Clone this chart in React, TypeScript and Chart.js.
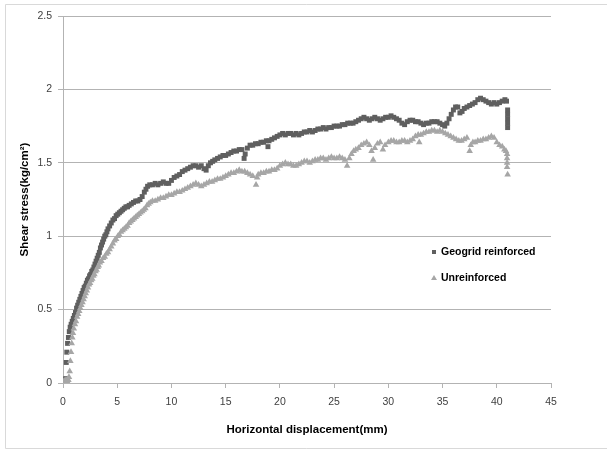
import React, { useEffect, useRef } from "react";
import { Chart, registerables } from "chart.js";

Chart.register(...registerables);

const xTicks = [0, 5, 10, 15, 20, 25, 30, 35, 40, 45];
const yTicks = [0, 0.5, 1, 1.5, 2, 2.5];
const yTickLabels = ["0", "0.5", "1", "1.5", "2", "2.5"];
const seriesNames = ["Geogrid reinforced", "Unreinforced"];

// Geogrid reinforced: [horizontal displacement (mm), shear stress (kg/cm2)]
const geogridPoints: number[][] = [
  [0, 0], [0.05, 0.01], [0.1, 0], [0.15, 0.02], [0.2, 0.01], [0.25, 0.03], [0.3, 0.14], [0.35, 0.21],
  [0.42, 0.27], [0.5, 0.31], [0.58, 0.35], [0.66, 0.38], [0.75, 0.4], [0.85, 0.42], [0.95, 0.44],
  [1.05, 0.46], [1.15, 0.48], [1.25, 0.51], [1.35, 0.53], [1.45, 0.55], [1.55, 0.57], [1.65, 0.59],
  [1.75, 0.61], [1.85, 0.63], [1.95, 0.65], [2.05, 0.66], [2.15, 0.68], [2.25, 0.7], [2.35, 0.71],
  [2.45, 0.73], [2.55, 0.74], [2.65, 0.76], [2.75, 0.77], [2.85, 0.79], [2.95, 0.81], [3.05, 0.83],
  [3.15, 0.85], [3.25, 0.87], [3.35, 0.89], [3.45, 0.92], [3.55, 0.94], [3.65, 0.96], [3.75, 0.98],
  [3.85, 1.0], [3.95, 1.01], [4.05, 1.03], [4.15, 1.05], [4.3, 1.07], [4.45, 1.09], [4.6, 1.11],
  [4.75, 1.12], [4.9, 1.14], [5.05, 1.15], [5.2, 1.16], [5.35, 1.17], [5.5, 1.18], [5.65, 1.19],
  [5.8, 1.2], [5.95, 1.2], [6.1, 1.21], [6.3, 1.22], [6.5, 1.23], [6.7, 1.24], [6.9, 1.24], [7.1, 1.25],
  [7.3, 1.27], [7.5, 1.3], [7.65, 1.32], [7.8, 1.34], [8.0, 1.35], [8.25, 1.35], [8.5, 1.36], [8.75, 1.35],
  [9.0, 1.36], [9.25, 1.37], [9.5, 1.36], [9.75, 1.36], [10.0, 1.38], [10.25, 1.4], [10.5, 1.41],
  [10.75, 1.42], [11.0, 1.44], [11.25, 1.45], [11.5, 1.46], [11.75, 1.47], [12.0, 1.48], [12.25, 1.48],
  [12.5, 1.47], [12.75, 1.48], [13.0, 1.46], [13.2, 1.45], [13.4, 1.48], [13.6, 1.5], [13.8, 1.51],
  [14.0, 1.52], [14.25, 1.53], [14.5, 1.54], [14.75, 1.55], [15.0, 1.55], [15.25, 1.56], [15.5, 1.57],
  [15.75, 1.58], [16.0, 1.58], [16.25, 1.59], [16.5, 1.59], [16.7, 1.53], [16.8, 1.56], [17.0, 1.6],
  [17.25, 1.62], [17.5, 1.62], [17.75, 1.63], [18.0, 1.63], [18.25, 1.64], [18.5, 1.64], [18.75, 1.65],
  [18.9, 1.61], [19.0, 1.65], [19.25, 1.66], [19.5, 1.67], [19.75, 1.68], [20.0, 1.69], [20.25, 1.7],
  [20.5, 1.69], [20.75, 1.7], [21.0, 1.7], [21.25, 1.69], [21.5, 1.7], [21.75, 1.69], [22.0, 1.7],
  [22.25, 1.71], [22.5, 1.71], [22.75, 1.72], [23.0, 1.71], [23.25, 1.72], [23.5, 1.73], [23.75, 1.73],
  [24.0, 1.74], [24.25, 1.73], [24.5, 1.74], [24.75, 1.74], [25.0, 1.75], [25.25, 1.75], [25.5, 1.75],
  [25.75, 1.76], [26.0, 1.76], [26.25, 1.77], [26.5, 1.77], [26.75, 1.77], [27.0, 1.78], [27.25, 1.79],
  [27.5, 1.8], [27.75, 1.81], [28.0, 1.8], [28.25, 1.79], [28.5, 1.8], [28.75, 1.81], [29.0, 1.8],
  [29.25, 1.79], [29.5, 1.8], [29.75, 1.81], [30.0, 1.81], [30.25, 1.82], [30.5, 1.81], [30.75, 1.8],
  [31.0, 1.79], [31.25, 1.77], [31.5, 1.76], [31.75, 1.78], [32.0, 1.79], [32.25, 1.79], [32.5, 1.78],
  [32.75, 1.78], [33.0, 1.77], [33.25, 1.76], [33.5, 1.77], [33.75, 1.77], [34.0, 1.78], [34.25, 1.78],
  [34.5, 1.78], [34.75, 1.77], [35.0, 1.76], [35.2, 1.75], [35.4, 1.77], [35.6, 1.8], [35.8, 1.83],
  [36.0, 1.86], [36.2, 1.88], [36.4, 1.88], [36.6, 1.84], [36.8, 1.85], [37.0, 1.87], [37.25, 1.88],
  [37.5, 1.89], [37.75, 1.9], [38.0, 1.91], [38.25, 1.93], [38.5, 1.94], [38.75, 1.93], [39.0, 1.92],
  [39.25, 1.91], [39.5, 1.9], [39.75, 1.91], [40.0, 1.9], [40.25, 1.91], [40.5, 1.92], [40.75, 1.93],
  [40.9, 1.92], [41.0, 1.86], [41.0, 1.83], [41.0, 1.8], [41.0, 1.77], [41.0, 1.74],
];

// Unreinforced: [horizontal displacement (mm), shear stress (kg/cm2)]
const unreinforcedPoints: number[][] = [
  [0, 0], [0.05, 0.01], [0.1, 0], [0.15, 0.01], [0.2, 0.02], [0.25, 0.01], [0.3, 0], [0.35, 0.02],
  [0.4, 0.01], [0.45, 0.02], [0.5, 0.02], [0.55, 0.04], [0.62, 0.08], [0.68, 0.15], [0.74, 0.21],
  [0.8, 0.27], [0.86, 0.31], [0.92, 0.34], [1.0, 0.37], [1.1, 0.4], [1.2, 0.42], [1.3, 0.45], [1.4, 0.47],
  [1.5, 0.49], [1.6, 0.51], [1.7, 0.53], [1.8, 0.55], [1.9, 0.57], [2.0, 0.59], [2.1, 0.61], [2.2, 0.63],
  [2.3, 0.65], [2.4, 0.67], [2.5, 0.68], [2.6, 0.7], [2.7, 0.71], [2.8, 0.73], [2.9, 0.74], [3.0, 0.76],
  [3.1, 0.77], [3.2, 0.79], [3.3, 0.8], [3.4, 0.82], [3.55, 0.83], [3.7, 0.85], [3.85, 0.86], [4.0, 0.88],
  [4.15, 0.89], [4.3, 0.91], [4.45, 0.93], [4.6, 0.95], [4.75, 0.97], [4.9, 0.98], [5.05, 1.0], [5.2, 1.01],
  [5.35, 1.03], [5.5, 1.04], [5.65, 1.05], [5.8, 1.06], [5.95, 1.07], [6.1, 1.09], [6.25, 1.1], [6.4, 1.11],
  [6.55, 1.12], [6.7, 1.13], [6.85, 1.14], [7.0, 1.15], [7.15, 1.16], [7.3, 1.17], [7.45, 1.18], [7.6, 1.19],
  [7.75, 1.21], [7.9, 1.22], [8.05, 1.23], [8.25, 1.24], [8.5, 1.24], [8.75, 1.25], [9.0, 1.26], [9.25, 1.26],
  [9.5, 1.27], [9.75, 1.28], [10.0, 1.28], [10.25, 1.29], [10.5, 1.3], [10.75, 1.3], [11.0, 1.31],
  [11.25, 1.32], [11.5, 1.33], [11.75, 1.34], [12.0, 1.35], [12.25, 1.36], [12.5, 1.35], [12.75, 1.34],
  [13.0, 1.35], [13.25, 1.36], [13.5, 1.37], [13.75, 1.37], [14.0, 1.38], [14.25, 1.39], [14.5, 1.39],
  [14.75, 1.4], [15.0, 1.41], [15.25, 1.42], [15.5, 1.43], [15.75, 1.43], [16.0, 1.44], [16.25, 1.45],
  [16.5, 1.44], [16.75, 1.44], [17.0, 1.43], [17.25, 1.42], [17.5, 1.41], [17.8, 1.35], [17.9, 1.4],
  [18.0, 1.42], [18.25, 1.43], [18.5, 1.43], [18.75, 1.44], [19.0, 1.44], [19.25, 1.45], [19.5, 1.45],
  [19.75, 1.46], [20.0, 1.48], [20.25, 1.49], [20.5, 1.5], [20.75, 1.49], [21.0, 1.49], [21.25, 1.48],
  [21.5, 1.48], [21.75, 1.49], [22.0, 1.5], [22.25, 1.51], [22.5, 1.51], [22.75, 1.5], [23.0, 1.51],
  [23.25, 1.52], [23.5, 1.52], [23.75, 1.53], [24.0, 1.53], [24.25, 1.52], [24.5, 1.53], [24.75, 1.54],
  [25.0, 1.53], [25.25, 1.53], [25.5, 1.54], [25.75, 1.53], [26.0, 1.52], [26.2, 1.48], [26.4, 1.53],
  [26.6, 1.56], [26.8, 1.58], [27.0, 1.59], [27.25, 1.6], [27.5, 1.62], [27.75, 1.63], [28.0, 1.64],
  [28.25, 1.62], [28.45, 1.58], [28.6, 1.52], [28.75, 1.6], [29.0, 1.63], [29.25, 1.64], [29.5, 1.59],
  [29.7, 1.62], [30.0, 1.64], [30.25, 1.65], [30.5, 1.65], [30.75, 1.64], [31.0, 1.64], [31.25, 1.65],
  [31.5, 1.65], [31.75, 1.64], [32.0, 1.65], [32.25, 1.66], [32.5, 1.68], [32.75, 1.69], [32.85, 1.64],
  [33.0, 1.69], [33.25, 1.7], [33.5, 1.71], [33.75, 1.71], [34.0, 1.72], [34.25, 1.72], [34.5, 1.71],
  [34.75, 1.72], [35.0, 1.71], [35.25, 1.7], [35.5, 1.69], [35.75, 1.68], [36.0, 1.67], [36.25, 1.66],
  [36.5, 1.65], [36.75, 1.65], [37.0, 1.66], [37.25, 1.67], [37.5, 1.58], [37.6, 1.62], [37.8, 1.64],
  [38.0, 1.64], [38.25, 1.65], [38.5, 1.65], [38.75, 1.66], [39.0, 1.66], [39.25, 1.67], [39.5, 1.68],
  [39.75, 1.67], [40.0, 1.64], [40.25, 1.62], [40.5, 1.61], [40.7, 1.59], [40.85, 1.58], [40.95, 1.56],
  [40.95, 1.53], [40.95, 1.5], [40.95, 1.47], [41.0, 1.42],
];

const DARK = "#5f5f5f";
const LIGHT = "#a6a6a6";
const GRID = "#b3b3b3";
const TEXT = "#404040";

const framePlugin = {
  id: "frame",
  beforeDraw(chart: any) {
    const ctx = chart.ctx;
    ctx.save();
    ctx.fillStyle = "#ffffff";
    ctx.fillRect(0, 0, chart.width, chart.height);
    ctx.strokeStyle = "#d9d9d9";
    ctx.lineWidth = 1;
    ctx.beginPath();
    ctx.moveTo(610, 4.5);
    ctx.lineTo(5.5, 4.5);
    ctx.lineTo(5.5, 448.5);
    ctx.lineTo(610, 448.5);
    ctx.stroke();
    ctx.restore();
  },
};

const legendPlugin = {
  id: "innerLegend",
  afterDraw(chart: any) {
    const ctx = chart.ctx;
    ctx.save();
    ctx.font = "bold 10.5px 'Liberation Sans', Arial, sans-serif";
    ctx.textBaseline = "middle";
    ctx.textAlign = "left";
    ctx.fillStyle = DARK;
    ctx.fillRect(432, 250, 4, 4);
    ctx.fillStyle = LIGHT;
    ctx.beginPath();
    ctx.moveTo(434, 275);
    ctx.lineTo(437, 280);
    ctx.lineTo(431, 280);
    ctx.closePath();
    ctx.fill();
    ctx.fillStyle = "#000000";
    ctx.fillText(seriesNames[0], 441, 252.5);
    ctx.fillText(seriesNames[1], 441, 278.5);
    ctx.restore();
  },
};

export default function App() {
  const canvasRef = useRef<HTMLCanvasElement | null>(null);

  useEffect(() => {
    if (!canvasRef.current) return;
    const chart = new Chart(canvasRef.current, {
      type: "scatter",
      data: {
        datasets: [
          {
            label: seriesNames[0],
            data: geogridPoints.map((p) => ({ x: p[0], y: p[1] })),
            pointStyle: "rect",
            pointRadius: 3.5,
            backgroundColor: DARK,
            borderColor: DARK,
            borderWidth: 0,
            order: 2,
          },
          {
            label: seriesNames[1],
            data: unreinforcedPoints.map((p) => ({ x: p[0], y: p[1] })),
            pointStyle: "triangle",
            pointRadius: 3.8,
            backgroundColor: LIGHT,
            borderColor: LIGHT,
            borderWidth: 0,
            order: 1,
          },
        ],
      },
      options: {
        responsive: false,
        animation: false,
        events: [],
        layout: { padding: { left: 0, right: 56, top: 16, bottom: 0 } },
        plugins: {
          legend: { display: false },
          tooltip: { enabled: false },
        },
        scales: {
          x: {
            type: "linear",
            min: xTicks[0],
            max: xTicks[xTicks.length - 1],
            afterFit: (s: any) => {
              s.height = 67;
            },
            afterBuildTicks: (s: any) => {
              s.ticks = xTicks.map((v) => ({ value: v }));
            },
            ticks: {
              color: TEXT,
              padding: 8,
              font: { family: "'Liberation Sans', Arial, sans-serif", size: 10.5 },
              maxRotation: 0,
            },
            grid: { drawOnChartArea: false, drawTicks: true, tickLength: 5, color: GRID },
            border: { display: true, color: GRID },
            title: {
              display: true,
              text: "Horizontal displacement(mm)",
              color: "#000000",
              font: { family: "'Liberation Sans', Arial, sans-serif", size: 11.5, weight: "bold" },
              padding: { top: 0, bottom: 13 },
            },
          },
          y: {
            type: "linear",
            min: yTicks[0],
            max: yTicks[yTicks.length - 1],
            afterFit: (s: any) => {
              s.width = 63;
            },
            afterBuildTicks: (s: any) => {
              s.ticks = yTicks.map((v) => ({ value: v }));
            },
            ticks: {
              color: TEXT,
              padding: 6,
              font: { family: "'Liberation Sans', Arial, sans-serif", size: 10.5 },
              callback: (value: any) => {
                const i = yTicks.indexOf(Number(value));
                return i >= 0 ? yTickLabels[i] : String(value);
              },
            },
            grid: { drawOnChartArea: true, drawTicks: true, tickLength: 5, color: GRID },
            border: { display: true, color: GRID },
            title: {
              display: true,
              text: "Shear stress(kg/cm²)",
              color: "#000000",
              font: { family: "'Liberation Sans', Arial, sans-serif", size: 11.5, weight: "bold" },
              padding: { top: 18, bottom: 0 },
            },
          },
        },
      },
      plugins: [framePlugin, legendPlugin],
    });
    return () => chart.destroy();
  }, []);

  return (
    <div style={{ position: "fixed", left: 0, top: 0, width: 607, height: 450, background: "#fff" }}>
      <canvas ref={canvasRef} width={607} height={450} style={{ display: "block" }} />
    </div>
  );
}
